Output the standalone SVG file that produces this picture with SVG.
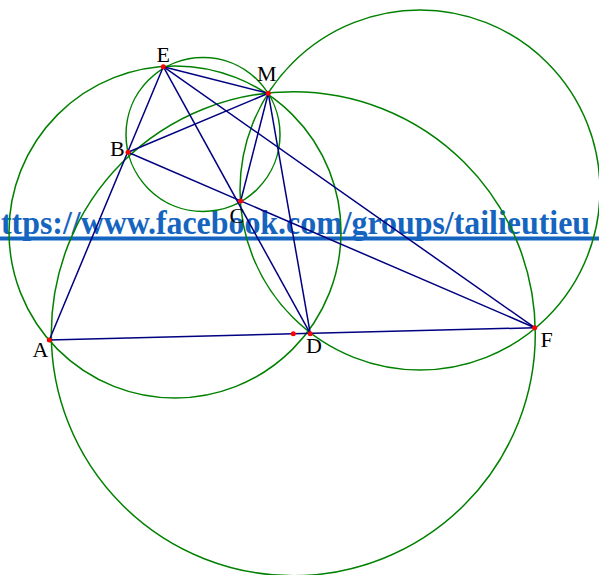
<svg xmlns="http://www.w3.org/2000/svg" width="599" height="575" viewBox="0 0 599 575">
<style>
.url{font-family:"Liberation Serif","Times New Roman",serif;font-weight:bold;font-size:33px;fill:#1565c0}
.c{fill:none;stroke:#008000;stroke-width:1.5}
.l{stroke:#000080;stroke-width:1.5;fill:none}
.p{fill:#ff0000}
.lab{font-family:"Liberation Serif","Times New Roman",serif;font-size:22px;fill:#000}
</style>
<rect width="599" height="575" fill="#fff"/>
<g id="url">
<text class="url" x="1" y="234" textLength="589" lengthAdjust="spacingAndGlyphs">ttps://www.facebook.com/groups/tailieutieu</text>
<rect x="0" y="236.5" width="599" height="4" fill="#1565c0"/>
</g>
<g id="circles">
<circle class="c" cx="203" cy="134.5" r="77"/>
<circle class="c" cx="175" cy="232" r="166"/>
<circle class="c" cx="293.3" cy="333.7" r="242"/>
<circle class="c" cx="420" cy="190" r="180"/>
</g>
<g id="connectors">
<line class="l" x1="49.3" y1="340" x2="163.3" y2="66.7"/>
<line class="l" x1="163.3" y1="66.7" x2="268.3" y2="93.3"/>
<line class="l" x1="163.3" y1="66.7" x2="310.3" y2="333.7"/>
<line class="l" x1="163.3" y1="66.7" x2="534.7" y2="327.7"/>
<line class="l" x1="128" y1="152.3" x2="268.3" y2="93.3"/>
<line class="l" x1="128" y1="152.3" x2="534.7" y2="327.7"/>
<line class="l" x1="268.3" y1="93.3" x2="240.7" y2="201"/>
<line class="l" x1="268.3" y1="93.3" x2="310.3" y2="333.7"/>
<line class="l" x1="49.3" y1="340" x2="534.7" y2="327.7"/>
</g>
<g id="node-E"><circle class="p" cx="163.3" cy="66.7" r="2.5"/><text class="lab" x="156.5" y="61.5">E</text></g>
<g id="node-M"><circle class="p" cx="268.3" cy="93.3" r="2.5"/><text class="lab" x="257" y="81">M</text></g>
<g id="node-B"><circle class="p" cx="128" cy="152.3" r="2.5"/><text class="lab" x="110" y="156">B</text></g>
<g id="node-C"><circle class="p" cx="240.7" cy="201" r="2.5"/><text class="lab" x="229.5" y="223">C</text></g>
<g id="node-A"><circle class="p" cx="49.3" cy="340" r="2.5"/><text class="lab" x="32.5" y="356.5">A</text></g>
<g id="node-D"><circle class="p" cx="310.3" cy="333.7" r="2.5"/><text class="lab" x="306" y="353">D</text></g>
<g id="node-F"><circle class="p" cx="534.7" cy="327.7" r="2.5"/><text class="lab" x="540.5" y="346.5">F</text></g>
<g id="node-O"><circle class="p" cx="293.3" cy="333.7" r="2.5"/></g>
</svg>
